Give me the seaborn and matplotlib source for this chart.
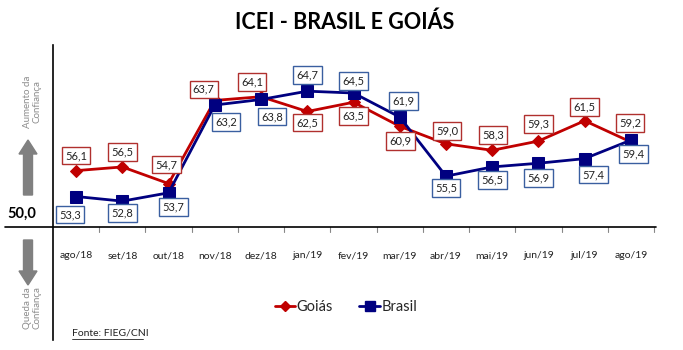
import matplotlib
matplotlib.use("Agg")
import matplotlib.pyplot as plt
from matplotlib.lines import Line2D
import seaborn as sns
import pandas as pd

meses = ["ago/18", "set/18", "out/18", "nov/18", "dez/18", "jan/19", "fev/19",
         "mar/19", "abr/19", "mai/19", "jun/19", "jul/19", "ago/19"]
goias = [56.1, 56.5, 54.7, 63.7, 64.1, 62.5, 63.5, 60.9, 59.0, 58.3, 59.3, 61.5, 59.2]
brasil = [53.3, 52.8, 53.7, 63.2, 63.8, 64.7, 64.5, 61.9, 55.5, 56.5, 56.9, 57.4, 59.4]

# label offsets in pixels (dx, dy), dy positive = up
off_goias = [(0, 15), (0, 15), (-2, 19), (-11, 11), (-9, 15), (0, -11), (0, -14),
             (1, -15), (1, 13), (1, 15), (0, 17), (0, 14), (-1, 19)]
off_brasil = [(-6, -18), (0, -12), (5, -14), (11, -17), (11, -17), (0, 16), (0, 12),
              (4, 16), (0, -12), (0, -13), (0, -15), (9, -16), (3, -14)]

sns.set_theme(style="white")
plt.rcParams['font.family'] = ['Lato', 'DejaVu Sans']

W, H = 683, 350
fig = plt.figure(figsize=(W / 100, H / 100), dpi=100)
left_px, right_px, top_px, bot_px = 53, 654, 45, 340
ax = fig.add_axes([left_px / W, 1 - bot_px / H, (right_px - left_px) / W, (bot_px - top_px) / H])

ppu = 9.24  # pixels per unit
y_lo = 50 - (bot_px - 227) / ppu
y_hi = 50 + (227 - top_px) / ppu
ax.set_ylim(y_lo, y_hi)
ax.set_xlim(-0.5, 12.5)

df = pd.DataFrame({"x": list(range(len(meses))) * 2,
                   "valor": goias + brasil,
                   "serie": ["Goiás"] * len(meses) + ["Brasil"] * len(meses)})

red = "#C00000"
navy = "#000080"
sns.lineplot(data=df[df.serie == "Goiás"], x="x", y="valor", color=red, lw=2.0,
             marker="D", markersize=6, markeredgecolor=red, ax=ax, zorder=3, legend=False)
sns.lineplot(data=df[df.serie == "Brasil"], x="x", y="valor", color=navy, lw=2.0,
             marker="s", markersize=8, markeredgecolor=navy, ax=ax, zorder=4, legend=False)

px2pt = 0.72
for i, (g, b) in enumerate(zip(goias, brasil)):
    dx, dy = off_goias[i]
    ax.annotate(f"{g:.1f}".replace(".", ","), (i, g), xytext=(dx * px2pt, dy * px2pt),
                textcoords="offset points", ha="center", va="center", fontsize=8,
                color="#222222", zorder=6,
                bbox=dict(boxstyle="square,pad=0.3", fc="white", ec="#B0302E", lw=1.0))
    dx, dy = off_brasil[i]
    ax.annotate(f"{b:.1f}".replace(".", ","), (i, b), xytext=(dx * px2pt, dy * px2pt),
                textcoords="offset points", ha="center", va="center", fontsize=8,
                color="#222222", zorder=6,
                bbox=dict(boxstyle="square,pad=0.3", fc="white", ec="#3A5FA0", lw=1.0))

# axes frame: only the vertical line on the left
for s in ax.spines.values():
    s.set_visible(False)
ax.spines["left"].set_visible(True)
ax.spines["left"].set_color("black")
ax.spines["left"].set_linewidth(1.2)
ax.set_xticks([])
ax.set_yticks([])
ax.set_xlabel("")
ax.set_ylabel("")

# horizontal baseline at 50 extending left of the vertical axis
y50 = 1 - 227 / H
fig.add_artist(Line2D([5 / W, 656 / W], [y50, y50], color="black", lw=1.2))
# small tick marks between months
for k in range(13):
    xv = k + 0.5
    ax.plot([xv, xv], [50, 50 - 5 / ppu], color="#888888", lw=0.8, clip_on=False)

# month labels
for i, m in enumerate(meses):
    ax.text(i, 50 - 29 / ppu, m, ha="center", va="center", fontsize=7.5, color="#222222")

# title
fig.text(345 / W, 1 - 22 / H, "ICEI - BRASIL E GOIÁS", ha="center", va="center",
         fontsize=15.5, fontweight="bold", color="black")

# left annotations
fig.text(22 / W, 1 - 214 / H, "50,0", ha="center", va="center", fontsize=10.5,
         fontweight="bold", color="black")
gray = "#808080"
fig.patches.append(matplotlib.patches.FancyArrow(
    28 / W, 1 - 195 / H, 0, 55 / H, width=9 / W, head_width=18 / W, head_length=14 / H,
    length_includes_head=True, color=gray, transform=fig.transFigure))
fig.patches.append(matplotlib.patches.FancyArrow(
    28 / W, 1 - 240 / H, 0, -45 / H, width=9 / W, head_width=18 / W, head_length=14 / H,
    length_includes_head=True, color=gray, transform=fig.transFigure))
fig.text(32 / W, 1 - 102 / H, "Aumento da\nConfiança", rotation=90, ha="center",
         va="center", fontsize=7, color="#8C8C8C", linespacing=1.1)
fig.text(32 / W, 1 - 308 / H, "Queda da\nConfiança", rotation=90, ha="center",
         va="center", fontsize=7, color="#8C8C8C", linespacing=1.1)

# legend
handles = [Line2D([], [], color=red, lw=2.0, marker="D", markersize=5),
           Line2D([], [], color=navy, lw=2.0, marker="s", markersize=7)]
fig.legend(handles, ["Goiás", "Brasil"], loc="center", bbox_to_anchor=(346 / W, 1 - 307 / H),
           ncol=2, frameon=False, fontsize=10.5, handlelength=1.4, handletextpad=0.1,
           columnspacing=1.8)

# source
fig.text(72 / W, 1 - 333 / H, "Fonte: FIEG/CNI", ha="left", va="center", fontsize=7.5,
         color="#222222")
fig.add_artist(Line2D([72 / W, 143 / W], [1 - 339 / H, 1 - 339 / H], color="#222222", lw=0.6))

fig.savefig("out.png", dpi=100)
